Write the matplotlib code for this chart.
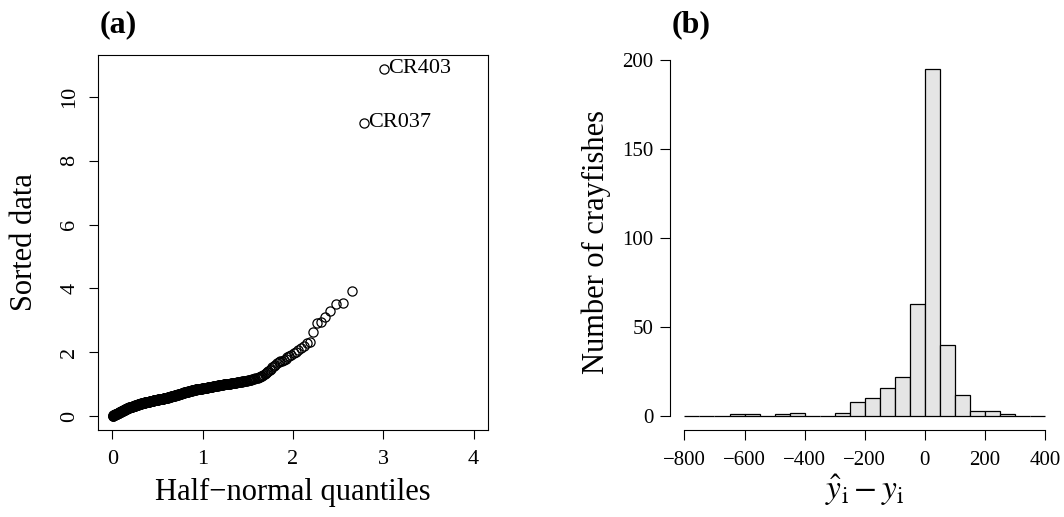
from statistics import NormalDist

import matplotlib
matplotlib.use('Agg')
import matplotlib.pyplot as plt

plt.rcParams['font.family'] = ['Liberation Serif', 'DejaVu Serif']
plt.rcParams['mathtext.fontset'] = 'stix'
plt.rcParams['axes.unicode_minus'] = True

# ==========================
# Datos
# ==========================
# valores ordenados (half-normal plot), de menor a mayor
datos_ordenados = [
    0.00, 0.01, 0.01, 0.02, 0.02, 0.03, 0.03, 0.04, 0.04, 0.05,
    0.05, 0.06, 0.06, 0.07, 0.07, 0.08, 0.08, 0.09, 0.09, 0.10,
    0.10, 0.11, 0.11, 0.12, 0.12, 0.13, 0.13, 0.14, 0.14, 0.15,
    0.15, 0.16, 0.16, 0.16, 0.17, 0.17, 0.18, 0.18, 0.19, 0.19,
    0.20, 0.20, 0.21, 0.21, 0.22, 0.22, 0.23, 0.23, 0.24, 0.24,
    0.24, 0.25, 0.25, 0.26, 0.26, 0.26, 0.27, 0.27, 0.28, 0.28,
    0.28, 0.29, 0.29, 0.29, 0.30, 0.30, 0.30, 0.31, 0.31, 0.31,
    0.32, 0.32, 0.32, 0.33, 0.33, 0.33, 0.34, 0.34, 0.34, 0.35,
    0.35, 0.35, 0.36, 0.36, 0.36, 0.37, 0.37, 0.37, 0.38, 0.38,
    0.38, 0.38, 0.39, 0.39, 0.39, 0.40, 0.40, 0.40, 0.41, 0.41,
    0.41, 0.41, 0.42, 0.42, 0.42, 0.42, 0.42, 0.43, 0.43, 0.43,
    0.43, 0.43, 0.44, 0.44, 0.44, 0.44, 0.44, 0.45, 0.45, 0.45,
    0.45, 0.46, 0.46, 0.46, 0.46, 0.47, 0.47, 0.47, 0.47, 0.48,
    0.48, 0.48, 0.48, 0.49, 0.49, 0.49, 0.49, 0.50, 0.50, 0.50,
    0.50, 0.50, 0.51, 0.51, 0.51, 0.51, 0.51, 0.52, 0.52, 0.52,
    0.52, 0.53, 0.53, 0.53, 0.53, 0.54, 0.54, 0.54, 0.54, 0.55,
    0.55, 0.55, 0.55, 0.56, 0.56, 0.56, 0.56, 0.56, 0.57, 0.57,
    0.57, 0.57, 0.58, 0.58, 0.58, 0.59, 0.59, 0.59, 0.60, 0.60,
    0.60, 0.61, 0.61, 0.61, 0.62, 0.62, 0.62, 0.62, 0.63, 0.63,
    0.63, 0.64, 0.64, 0.64, 0.65, 0.65, 0.65, 0.65, 0.66, 0.66,
    0.66, 0.67, 0.67, 0.68, 0.68, 0.68, 0.69, 0.69, 0.70, 0.70,
    0.70, 0.71, 0.71, 0.72, 0.72, 0.72, 0.73, 0.73, 0.74, 0.74,
    0.74, 0.75, 0.75, 0.76, 0.76, 0.76, 0.77, 0.77, 0.78, 0.78,
    0.78, 0.79, 0.79, 0.80, 0.80, 0.80, 0.81, 0.81, 0.82, 0.82,
    0.82, 0.82, 0.83, 0.83, 0.83, 0.84, 0.84, 0.84, 0.85, 0.85,
    0.85, 0.85, 0.85, 0.86, 0.86, 0.86, 0.86, 0.86, 0.87, 0.87,
    0.87, 0.87, 0.88, 0.88, 0.88, 0.88, 0.89, 0.89, 0.89, 0.90,
    0.90, 0.90, 0.91, 0.91, 0.91, 0.91, 0.92, 0.92, 0.92, 0.93,
    0.93, 0.93, 0.94, 0.94, 0.94, 0.95, 0.95, 0.95, 0.96, 0.96,
    0.96, 0.97, 0.97, 0.97, 0.98, 0.98, 0.98, 0.99, 0.99, 1.00,
    1.00, 1.00, 1.01, 1.01, 1.01, 1.02, 1.02, 1.02, 1.03, 1.03,
    1.03, 1.04, 1.04, 1.05, 1.05, 1.05, 1.06, 1.06, 1.07, 1.07,
    1.07, 1.08, 1.08, 1.09, 1.09, 1.10, 1.10, 1.11, 1.11, 1.12,
    1.12, 1.13, 1.14, 1.14, 1.15, 1.16, 1.17, 1.18, 1.19, 1.20,
    1.21, 1.23, 1.25, 1.27, 1.30, 1.32, 1.35, 1.37, 1.40, 1.44,
    1.47, 1.55, 1.58, 1.60, 1.65, 1.70, 1.72, 1.74, 1.76, 1.78,
    1.85, 1.88, 1.92, 1.97, 2.02, 2.08, 2.13, 2.21, 2.30, 2.33,
    2.65, 2.91, 2.94, 3.12, 3.30, 3.51, 3.54, 3.93, 9.20, 10.88,
]
etiquetas_extremos = ['CR037', 'CR403']

# histograma de residuos (ancho de clase 50)
limites_clase = list(range(-800, 401, 50))
frecuencias = [0, 0, 0, 1, 1, 0, 1, 2, 0, 0, 2, 8,
               10, 16, 22, 63, 195, 40, 12, 3, 3, 1, 0, 0]

# ==========================
# Cuantiles half-normal
# ==========================
n = len(datos_ordenados)
normal = NormalDist()
cuantiles = [normal.inv_cdf((n + i) / (2 * n + 1)) for i in range(1, n + 1)]

fig = plt.figure(figsize=(10.64, 5.17), dpi=100)
ax1 = fig.add_axes([0.0921, 0.1683, 0.3665, 0.7253])
ax2 = fig.add_axes([0.6297, 0.1683, 0.3661, 0.7253])

# (a) gráfico half-normal
ax1.plot(cuantiles, datos_ordenados, linestyle='none', marker='o',
         markersize=6.6, markerfacecolor='none', markeredgecolor='black',
         markeredgewidth=0.9)
for k, nombre in enumerate(etiquetas_extremos):
    idx = n - len(etiquetas_extremos) + k
    ax1.annotate(nombre, (cuantiles[idx], datos_ordenados[idx]),
                 xytext=(3, 0), textcoords='offset points',
                 ha='left', va='center', fontsize=16)

ax1.set_xlim(-0.16, 4.16)
ax1.set_ylim(-0.436, 11.316)
ax1.set_xticks([0, 1, 2, 3, 4])
ax1.set_yticks([0, 2, 4, 6, 8, 10])
ax1.tick_params(direction='out', length=6.5, width=0.8, labelsize=16, pad=8)
ax1.tick_params(axis='y', pad=7)
for lab in ax1.get_yticklabels():
    lab.set_rotation(90)
    lab.set_va('center')
for sp in ax1.spines.values():
    sp.set_linewidth(0.8)
ax1.set_xlabel('Half\u2212normal quantiles', fontsize=22, va='center')
ax1.xaxis.set_label_coords(0.5, -0.168)
ax1.set_ylabel('Sorted data', fontsize=22, va='center')
ax1.yaxis.set_label_coords(-0.188, 0.5)

# (b) histograma
ax2.bar(limites_clase[:-1], frecuencias, width=50, align='edge',
        color='#e5e5e5', edgecolor='black', linewidth=0.9)
ax2.set_xlim(-848, 448)
ax2.set_ylim(-7.8, 202.8)
ax2.set_xticks([-800, -600, -400, -200, 0, 200, 400])
ax2.set_yticks([0, 50, 100, 150, 200])
ax2.spines['top'].set_visible(False)
ax2.spines['right'].set_visible(False)
ax2.spines['left'].set_bounds(0, 200)
ax2.spines['bottom'].set_bounds(-800, 400)
ax2.spines['left'].set_linewidth(0.8)
ax2.spines['bottom'].set_linewidth(0.8)
ax2.tick_params(direction='out', length=7, width=0.8, labelsize=15)
ax2.tick_params(axis='x', pad=8)
ax2.tick_params(axis='y', pad=5)
ax2.set_xlabel(r'$\hat{y}_{\mathrm{i}} - y_{\mathrm{i}}$', fontsize=24, va='center')
ax2.xaxis.set_label_coords(0.5, -0.16)
ax2.set_ylabel('Number of crayfishes', fontsize=22, va='center')
ax2.yaxis.set_label_coords(-0.19, 0.5)

fig.text(0.094, 1 - 32 / 517, '(a)', fontsize=23, fontweight='bold', va='baseline')
fig.text(0.631, 1 - 32 / 517, '(b)', fontsize=23, fontweight='bold', va='baseline')

fig.savefig('out.png', dpi=100)
